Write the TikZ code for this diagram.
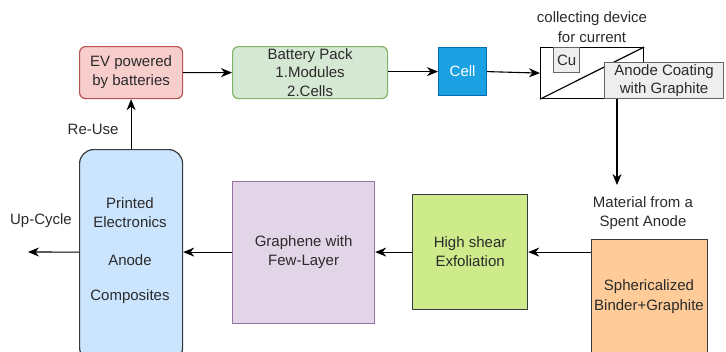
\documentclass[tikz,border=0pt]{standalone}
\usepackage{fontspec}
\setmainfont{Liberation Sans}
\usepackage{xcolor}
\usetikzlibrary{arrows.meta,positioning}

\definecolor{evfill}{HTML}{F8CECC}
\definecolor{evline}{HTML}{B85450}
\definecolor{packfill}{HTML}{D5E8D4}
\definecolor{packline}{HTML}{82B366}
\definecolor{cellfill}{HTML}{1BA1E2}
\definecolor{cellline}{HTML}{006EAF}
\definecolor{greyfill}{HTML}{EEEEEE}
\definecolor{greyline}{HTML}{666666}
\definecolor{sphfill}{HTML}{FFCC99}
\definecolor{shearfill}{HTML}{CDEB8B}
\definecolor{graphfill}{HTML}{E1D5E7}
\definecolor{graphline}{HTML}{9673A6}
\definecolor{printfill}{HTML}{CCE5FF}
\definecolor{darkline}{HTML}{36393D}
\definecolor{txt}{HTML}{2A2A2A}

\tikzset{
  block/.style={draw,line width=1.2pt,anchor=north west,align=center,text=txt,inner sep=2pt},
  flow/.style={-{Stealth[length=11pt,width=9pt,inset=3.5pt]},line width=1.1pt}
}

\begin{document}
\begin{tikzpicture}[x=1pt,y=-1pt]
\useasboundingbox (0,0) rectangle (726,351);

\tikzstyle{every node}=[font=\fontsize{15}{19}\selectfont]

% top row
\node (ev) [block,fill=evfill,draw=evline,rounded corners=6pt,minimum width=103pt,minimum height=52pt] at (79,46) {EV powered\\by batteries};
\node (pack) [block,fill=packfill,draw=packline,rounded corners=6pt,minimum width=155pt,minimum height=52pt,font=\fontsize{15}{18.5}\selectfont] at (232,46) {Battery Pack\\1.Modules\\2.Cells};
\node (cell) [block,fill=cellfill,draw=cellline,text=white,minimum width=48pt,minimum height=48pt] at (438,47) {Cell};

% current collector with its coating
\node (collector) [draw,line width=1.2pt,anchor=north west,minimum width=103pt,minimum height=51pt] at (540,47) {};
\draw[line width=1.2pt] (collector.south west) -- (collector.north east);
\node (cu) [block,fill=greyfill,draw=greyline,minimum width=26pt,minimum height=25pt] at (553,47) {Cu};
\node (coating) [block,fill=greyfill,draw=greyline,minimum width=119pt,minimum height=36pt,font=\fontsize{15}{18}\selectfont] at (604,62) {Anode Coating\\with Graphite};
\node (device) [text=txt,align=center,font=\fontsize{15}{20}\selectfont] at (592,27) {collecting device\\for current};

% bottom row
\node (sph) [block,fill=sphfill,draw=darkline,minimum width=116pt,minimum height=125pt] at (591,239) {};
\node (sphtext) [text=txt,align=center,font=\fontsize{15}{20}\selectfont] at (649,297) {Sphericalized\\Binder+Graphite};
\node (spent) [text=txt,align=center] at (643,213) {Material from a\\Spent Anode};
\node (shear) [block,fill=shearfill,draw=darkline,minimum width=115pt,minimum height=115pt] at (412,194) {High shear\\Exfoliation};
\node (graph) [block,fill=graphfill,draw=graphline,minimum width=142pt,minimum height=142pt] at (232,181) {Graphene with\\Few-Layer};
\node (printed) [block,fill=printfill,draw=darkline,rounded corners=14pt,minimum width=103pt,minimum height=212pt] at (79,149) {};
\node (printtext) [text=txt,align=center] at (130,251) {Printed\\Electronics\\[19pt]Anode\\[16pt]Composites};

\coordinate (drop) at (617,185);
\coordinate (out) at (28,252);

% connectors
\draw[flow] (ev) -- (pack);
\draw[flow] (pack.east |- cell.west) -- (cell.west);
\draw[flow] (cell.east) -- (collector.west);
\draw[flow] (drop |- coating.south) -- (drop);
\draw[flow] (shear.east -| sph.west) -- (shear.east);
\draw[flow] (shear.west) -- (shear.west -| graph.east);
\draw[flow] (shear.west -| graph.west) -- (shear.west -| printed.east);
\draw[flow] (printed.north) -- node[text=txt,xshift=-38pt,yshift=-5pt] {Re-Use} (ev.south);
\draw[flow] (shear.west -| printed.west) -- (out) node[text=txt,xshift=13pt,yshift=31pt] {Up-Cycle};
\end{tikzpicture}
\end{document}
